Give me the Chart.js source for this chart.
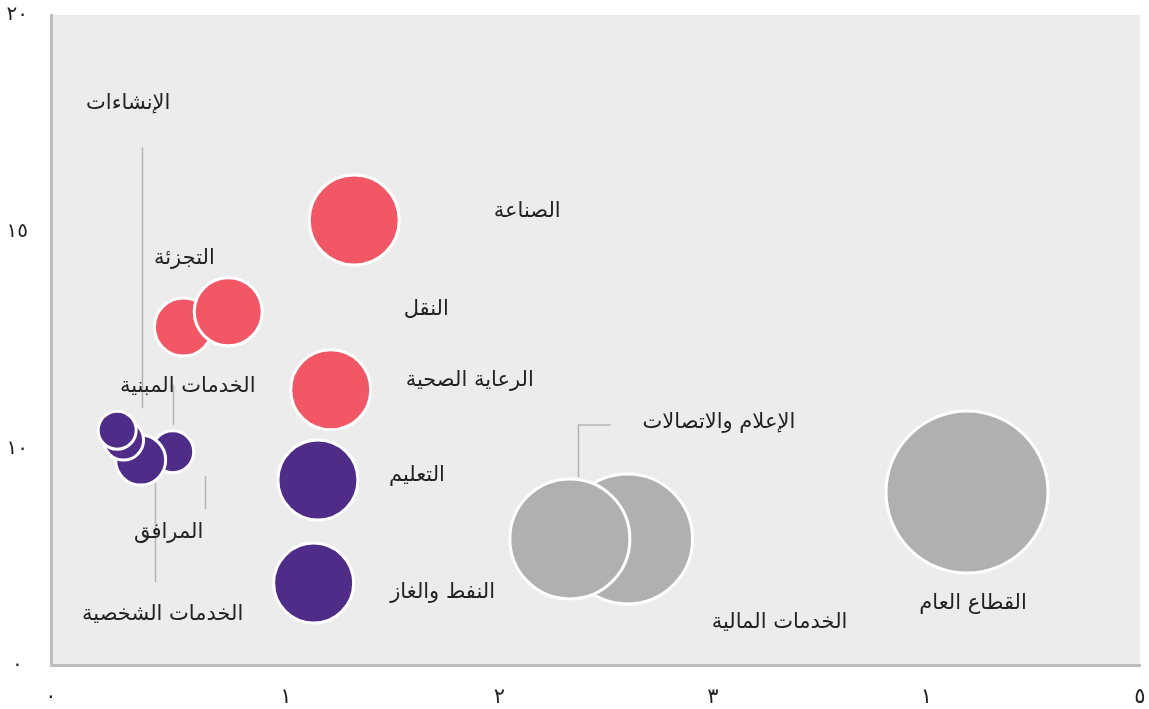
<!DOCTYPE html>
<html lang="ar">
<head>
<meta charset="utf-8">
<script src="https://cdn.jsdelivr.net/npm/chart.js@4"></script>
<style>
  html, body { margin: 0; padding: 0; background: #fff; }
</style>
</head>
<body>
<canvas id="chart" width="1149" height="709"></canvas>
<script>
const SECTORS = [
    'القطاع العام', 'الخدمات المالية', 'الإعلام والاتصالات',
    'الصناعة', 'التجزئة', 'النقل', 'الرعاية الصحية',
    'التعليم', 'النفط والغاز',
    'الخدمات المبنية', 'الخدمات الشخصية', 'المرافق', 'الإنشاءات'
];
const X_VALUES = [4.19, 2.60, 2.33, 1.32, 0.52, 0.73, 1.21, 1.15, 1.13, 0.47, 0.32, 0.24, 0.21];
const Y_VALUES = [8.99, 7.91, 7.91, 15.27, 12.80, 13.15, 11.35, 9.27, 6.89, 9.92, 9.73, 10.19, 10.42];
const SIZES = [81, 65, 60, 45, 29, 34, 40, 40, 40, 21, 25, 20, 19];
const GROUPS = ['gray', 'gray', 'gray', 'red', 'red', 'red', 'red',
    'purple', 'purple', 'purple', 'purple', 'purple', 'purple'];

const X_TICKS = [-0.1, 1, 2, 3, 4, 5];
const X_TICK_LABELS = ['٠', '١', '٢', '٣', '١', '٥'];
const Y_TICKS = [5, 10, 15, 20];
const Y_TICK_LABELS = ['٠', '١٠', '١٥', '٢٠'];

const COLORS = { red: '#f15765', purple: '#4f2c88', gray: '#b0b0b0' };

// label centre and leader line, as pixel offsets from the bubble centre
const LABEL_LAYOUT = [
    { dx: 6, dy: 111 },
    { dx: 152, dy: 84 },
    { dx: 149, dy: -116, line: [[8, -62], [8, -114], [40, -114]] },
    { dx: 173, dy: -8 },
    { dx: 1, dy: -68 },
    { dx: 198, dy: -2 },
    { dx: 139, dy: -9 },
    { dx: 99, dy: -4 },
    { dx: 129, dy: 9 },
    { dx: 15, dy: -65, line: [[0, -67], [0, -27]] },
    { dx: 22, dy: 155, line: [[14, 23], [14, 122]] },
    { dx: 45, dy: 92, line: [[81, 36], [81, 69]] },
    { dx: 11, dy: -327, line: [[25, -283], [25, -22]] }
];

const FONT = "'DejaVu Sans', 'Noto Sans', sans-serif";

const bgPlugin = {
    id: 'bg',
    beforeDraw(chart) {
        const { ctx, chartArea: a } = chart;
        ctx.save();
        ctx.fillStyle = '#ececec';
        ctx.fillRect(a.left, a.top, a.right - a.left, a.bottom - a.top);
        ctx.restore();
    }
};

const labelPlugin = {
    id: 'labels',
    beforeDatasetsDraw(chart) {
        const ctx = chart.ctx;
        const pts = chart.getDatasetMeta(0).data;
        ctx.save();
        ctx.strokeStyle = '#b4b4b4';
        ctx.lineWidth = 1.5;
        LABEL_LAYOUT.forEach((l, i) => {
            if (!l.line) return;
            ctx.beginPath();
            l.line.forEach((p, j) => {
                const x = Math.round(pts[i].x + p[0]) + 0.5;
                const y = pts[i].y + p[1];
                if (j === 0) ctx.moveTo(x, y); else ctx.lineTo(x, y);
            });
            ctx.stroke();
        });
        ctx.restore();
    },
    afterDatasetsDraw(chart) {
        const ctx = chart.ctx;
        const pts = chart.getDatasetMeta(0).data;
        ctx.save();
        ctx.fillStyle = '#222';
        ctx.font = '21px ' + FONT;
        ctx.textAlign = 'center';
        ctx.textBaseline = 'middle';
        ctx.direction = 'rtl';
        LABEL_LAYOUT.forEach((l, i) => {
            ctx.fillText(SECTORS[i], pts[i].x + l.dx, pts[i].y + l.dy);
        });
        ctx.restore();
    }
};

function noPadding(scale) {
    scale.paddingLeft = 0;
    scale.paddingRight = 0;
    scale.paddingTop = 0;
    scale.paddingBottom = 0;
}

const points = SECTORS.map((s, i) => ({ x: X_VALUES[i], y: Y_VALUES[i], r: SIZES[i] }));

new Chart(document.getElementById('chart'), {
    type: 'bubble',
    data: {
        datasets: [{
            data: points,
            backgroundColor: GROUPS.map(g => COLORS[g]),
            borderColor: '#ffffff',
            borderWidth: 3
        }]
    },
    options: {
        responsive: false,
        animation: false,
        layout: { autoPadding: false, padding: { top: 15, right: 9, left: 0, bottom: 0 } },
        plugins: { legend: { display: false }, tooltip: { enabled: false } },
        scales: {
            x: {
                type: 'linear',
                min: X_TICKS[0],
                max: X_TICKS[X_TICKS.length - 1],
                afterBuildTicks(scale) { scale.ticks = X_TICKS.map(v => ({ value: v })); },
                afterFit(scale) { scale.height = 44; noPadding(scale); },
                grid: { display: true, drawOnChartArea: false, drawTicks: false },
                border: { color: '#bdbdbd', width: 3 },
                ticks: {
                    padding: 20,
                    maxRotation: 0,
                    color: '#222',
                    font: { family: FONT, size: 21 },
                    callback: (v, i) => X_TICK_LABELS[i]
                }
            },
            y: {
                type: 'linear',
                min: Y_TICKS[0],
                max: Y_TICKS[Y_TICKS.length - 1],
                afterBuildTicks(scale) { scale.ticks = Y_TICKS.map(v => ({ value: v })); },
                afterFit(scale) { scale.width = 51; noPadding(scale); },
                grid: { display: true, drawOnChartArea: false, drawTicks: false },
                border: { color: '#bdbdbd', width: 3 },
                ticks: {
                    padding: 23,
                    crossAlign: 'center',
                    color: '#222',
                    font: { family: FONT, size: 20 },
                    callback: (v, i) => Y_TICK_LABELS[i]
                }
            }
        }
    },
    plugins: [bgPlugin, labelPlugin]
});
</script>
</body>
</html>
